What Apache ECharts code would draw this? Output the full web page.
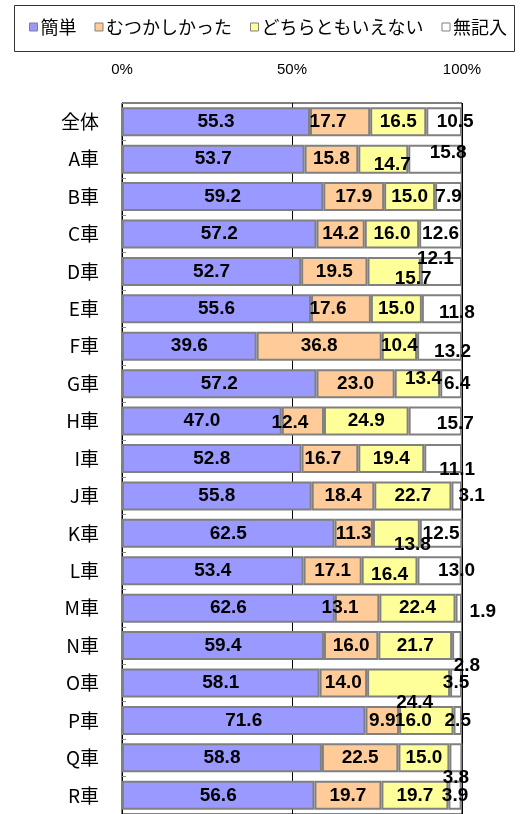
<!DOCTYPE html>
<html>
<head>
<meta charset="utf-8">
<script src="https://cdn.jsdelivr.net/npm/echarts@6/dist/echarts.min.js"></script>
<style>
  html, body { margin: 0; padding: 0; background: #fff; }
  #chart { width: 524px; height: 814px; }
</style>
</head>
<body>
<div id="chart"></div>
<script>
// 行ラベル（上から順）
const categories = ['全体', 'A車', 'B車', 'C車', 'D車', 'E車', 'F車', 'G車', 'H車', 'I車',
  'J車', 'K車', 'L車', 'M車', 'N車', 'O車', 'P車', 'Q車', 'R車'];
const seriesNames = ['簡単', 'むつかしかった', 'どちらともいえない', '無記入'];
const easy =      [55.3, 53.7, 59.2, 57.2, 52.7, 55.6, 39.6, 57.2, 47.0, 52.8, 55.8, 62.5, 53.4, 62.6, 59.4, 58.1, 71.6, 58.8, 56.6];
const hard =      [17.7, 15.8, 17.9, 14.2, 19.5, 17.6, 36.8, 23.0, 12.4, 16.7, 18.4, 11.3, 17.1, 13.1, 16.0, 14.0, 9.9, 22.5, 19.7];
const neither =   [16.5, 14.7, 15.0, 16.0, 15.7, 15.0, 10.4, 13.4, 24.9, 19.4, 22.7, 13.8, 16.4, 22.4, 21.7, 24.4, 16.0, 15.0, 19.7];
const noAnswer =  [10.5, 15.8, 7.9, 12.6, 12.1, 11.8, 13.2, 6.4, 15.7, 11.1, 3.1, 12.5, 13.0, 1.9, 2.8, 3.5, 2.5, 3.8, 3.9];
const tickLabels = ['0%', '50%', '100%'];

const colors = ['#9999FF', '#FFCC99', '#FFFF99', '#FFFFFF'];

// Excel風にずれたラベル位置 "系列,行": [dx, dy]
const labelNudge = {
  '1,0': [-12, 0], '3,0': [11, 0],
  '2,1': [9, 6], '3,1': [13, -6],
  '2,4': [19, 7], '3,4': [-6, -13],
  '1,5': [-13, 0], '3,5': [15, 4],
  '3,6': [13, 6],
  '2,7': [6, -5], '3,7': [6, 0],
  '1,8': [-13, 2], '3,8': [20, 3],
  '1,9': [-7, 0], '3,9': [14, 11],
  '3,10': [15, 0],
  '2,11': [16, 11],
  '2,12': [0, 4], '3,12': [17, 0],
  '1,13': [-17, 0], '3,13': [24, 4],
  '3,14': [10, 20],
  '2,15': [6, 20],
  '2,16': [-13, 0],
  '3,17': [0, 20]
};

const chart = echarts.init(document.getElementById('chart'));

const allValues = [easy, hard, neither, noAnswer];
const series = allValues.map((vals, s) => ({
  name: seriesNames[s],
  type: 'bar',
  stack: 'total',
  barWidth: 29,
  itemStyle: { color: colors[s], borderColor: '#808080', borderWidth: 2 },
  label: {
    show: true,
    position: 'inside',
    color: '#000',
    fontWeight: 'bold',
    fontSize: 19,
    fontFamily: 'Liberation Sans, Arial, sans-serif',
    formatter: (p) => p.value.toFixed(1)
  },
  emphasis: { disabled: true },
  data: vals.map((v, r) => {
    const n = labelNudge[s + ',' + r];
    return n ? { value: v, label: { offset: n } } : v;
  })
}));

chart.setOption({
  backgroundColor: '#fff',
  animation: false,
  graphic: [{
    type: 'rect',
    shape: { x: 14.5, y: 5.5, width: 500, height: 46 },
    style: { fill: '#fff', stroke: '#333', lineWidth: 1 },
    z: 0
  }],
  legend: {
    top: 18,
    left: 29,
    width: 496,
    padding: 0,
    itemWidth: 8,
    itemHeight: 8,
    itemGap: 18,
    icon: 'rect',
    itemStyle: { borderColor: '#808080', borderWidth: 1 },
    textStyle: { fontSize: 18, color: '#000', fontFamily: 'Noto Sans CJK JP', padding: [0, 0, 0, -2] },
    data: seriesNames
  },
  grid: { left: 122, right: 62, top: 103, height: 716 },
  xAxis: {
    type: 'value',
    position: 'top',
    min: 0,
    max: 100,
    interval: 50,
    axisLine: { show: false },
    axisTick: { show: false },
    axisLabel: {
      margin: 26,
      fontSize: 15,
      color: '#000',
      fontFamily: 'Liberation Sans, Arial, sans-serif',
      formatter: (v) => tickLabels[v / 50]
    },
    splitLine: { show: true, lineStyle: { color: '#000', width: 1 } }
  },
  yAxis: {
    type: 'category',
    inverse: true,
    data: categories,
    axisLine: { show: true, lineStyle: { color: '#000', width: 1 } },
    axisTick: { show: true, inside: true, length: 4, lineStyle: { color: '#888' } },
    axisLabel: {
      margin: 23,
      fontSize: 19,
      color: '#000',
      fontFamily: 'Noto Sans CJK JP'
    }
  },
  series: series
});
// 枠線
chart.setOption({ grid: { show: true, borderColor: '#000', borderWidth: 1, backgroundColor: 'transparent' } });
</script>
</body>
</html>
